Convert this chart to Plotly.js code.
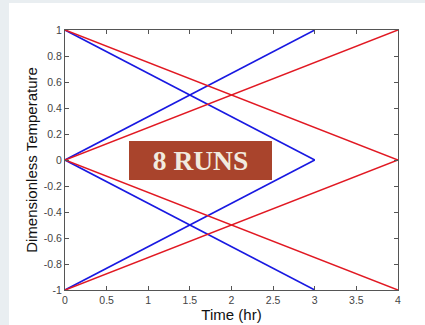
<!DOCTYPE html>
<html>
<head>
<meta charset="utf-8">
<script src="https://cdn.plot.ly/plotly-3.0.1.min.js"></script>
<style>
  html, body { margin: 0; padding: 0; background: #e9eef1; width: 425px; height: 325px; overflow: hidden; }
  #chart { position: absolute; left: 9px; top: 3px; width: 416px; height: 322px; }
</style>
</head>
<body>
<div id="chart"></div>
<script>
// Start and end times of the two run groups (hr)
const blueTimes = [0, 3];
const redTimes = [0, 4];

// Dimensionless temperature at start and end of each run
const blueRuns = [[1, 0], [0, 1], [0, -1], [-1, 0]];
const redRuns = [[1, 0], [0, 1], [0, -1], [-1, 0]];

const xTicks = [0, 0.5, 1, 1.5, 2, 2.5, 3, 3.5, 4];
const xTickText = ['0', '0.5', '1', '1.5', '2', '2.5', '3', '3.5', '4'];
const yTicks = [-1, -0.8, -0.6, -0.4, -0.2, 0, 0.2, 0.4, 0.6, 0.8, 1];
const yTickText = ['-1', '-0.8', '-0.6', '-0.4', '-0.2', '0', '0.2', '0.4', '0.6', '0.8', '1'];

const runLabel = '8 RUNS';

const traces = [];
blueRuns.forEach(r => traces.push({
  x: blueTimes, y: r, mode: 'lines', type: 'scatter',
  line: { color: 'rgb(25,25,225)', width: 1.6 }, hoverinfo: 'skip'
}));
redRuns.forEach(r => traces.push({
  x: redTimes, y: r, mode: 'lines', type: 'scatter',
  line: { color: 'rgb(225,25,35)', width: 1.6 }, hoverinfo: 'skip'
}));

const axisCommon = {
  showgrid: false, zeroline: false, showline: true, mirror: 'ticks',
  linecolor: '#555', linewidth: 1, ticks: 'inside', ticklen: 4,
  tickcolor: '#555', tickfont: { family: 'Liberation Sans, Arial, sans-serif', size: 10.5, color: '#444' }
};

const layout = {
  width: 416, height: 322,
  margin: { l: 56, r: 27, t: 27, b: 35 },
  paper_bgcolor: '#ffffff', plot_bgcolor: '#ffffff',
  showlegend: false,
  xaxis: Object.assign({}, axisCommon, {
    range: [0, 4], tickvals: xTicks, ticktext: xTickText,
    title: { text: 'Time (hr)', standoff: 3, font: { family: 'Liberation Sans, Arial, sans-serif', size: 15, color: '#111' } }
  }),
  yaxis: Object.assign({}, axisCommon, {
    range: [-1, 1], tickvals: yTicks, ticktext: yTickText,
    title: { text: 'Dimensionless Temperature', standoff: 2, font: { family: 'Liberation Sans, Arial, sans-serif', size: 15, color: '#111' } }
  }),
  annotations: [{
    x: 1.63, y: 0, xref: 'x', yref: 'y', showarrow: false,
    text: '<b>' + runLabel + '</b>',
    font: { family: 'Liberation Serif, Times New Roman, serif', size: 27.5, color: '#f1ebdf' },
    bgcolor: '#a9442c', borderpad: 0, borderwidth: 0,
    width: 143, height: 39, align: 'center', valign: 'middle'
  }]
};

Plotly.newPlot('chart', traces, layout, { staticPlot: true, displayModeBar: false });
</script>
</body>
</html>
